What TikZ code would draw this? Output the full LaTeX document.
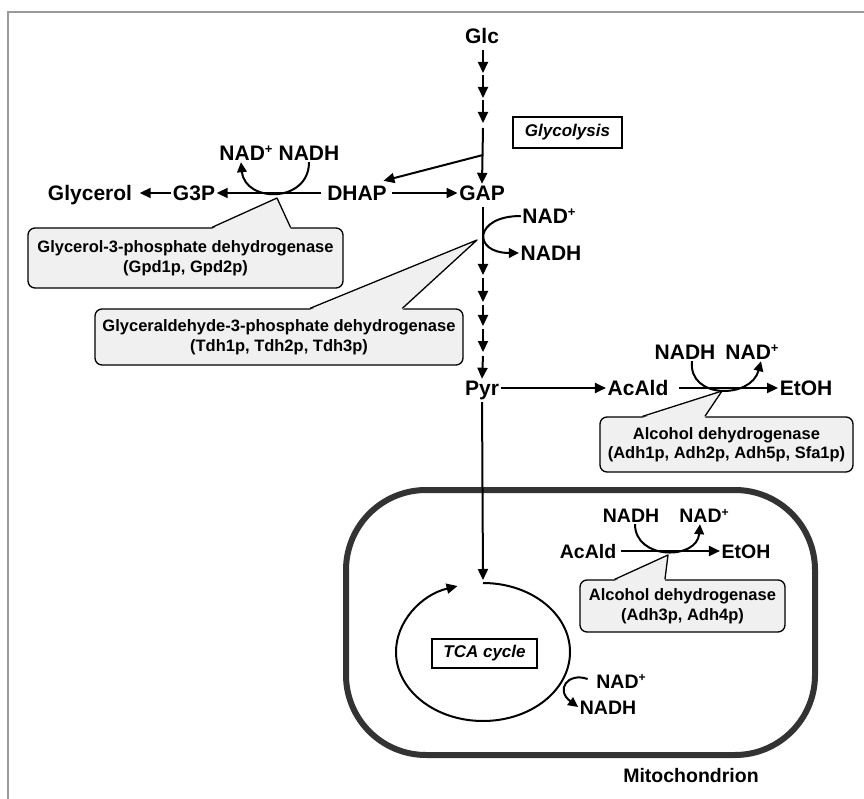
\documentclass[tikz,border=0pt]{standalone}
\usepackage{fontspec}
\setmainfont{Liberation Sans}
\usetikzlibrary{arrows.meta, calc}

\newcommand{\metfont}{\fontsize{21}{24}\selectfont\bfseries}
\newcommand{\mitfont}{\fontsize{19.5}{22}\selectfont\bfseries}
\newcommand{\enzfont}{\fontsize{16.5}{19.5}\selectfont\bfseries}
\newcommand{\tagfont}{\fontsize{17}{20}\selectfont\bfseries\itshape}
\newcommand{\plus}{\raisebox{0.33em}{\scalebox{0.62}{+}}}

\tikzset{
    base/.style={font=\metfont, inner sep=1.5pt, text height=15pt, text depth=0pt},
    mitlabel/.style={base, font=\mitfont, text height=14pt},
    enzyme/.style={draw=black, line width=1.3pt, rounded corners=7pt, fill=black!6, font=\enzfont, align=center, inner sep=0pt},
    titlebox/.style={draw=black, line width=1.9pt, font=\tagfont, inner sep=0pt},
    line/.style={draw=black, line width=2pt, -{Triangle[length=11pt,width=10pt]}},
    cofactor/.style={draw=black, line width=2pt, -{Triangle[length=10pt,width=9.5pt]}},
    membrane/.style={draw=black!80, line width=6pt, rounded corners=80pt}
}

% pointer of an enzyme box: box, tip, start and end of its base along the top edge
\newcommand{\enzpointer}[4]{%
    \fill [black!6] ($(#1.north west)!#3!(#1.north east)+(0,1.5)$) -- (#2) -- ($(#1.north west)!#4!(#1.north east)+(0,1.5)$) -- cycle;
    \draw [line width=1.3pt, line join=round] ($(#1.north west)!#3!(#1.north east)$) -- (#2) -- ($(#1.north west)!#4!(#1.north east)$);
}

\begin{document}
\begin{tikzpicture}[x=1pt, y=-1pt]
    \useasboundingbox (0,0) rectangle (864,799);
    \draw [black!40, line width=1.5pt] (8,799) -- (8,12) -- (864,12);

    % mitochondrion
    \node [membrane, minimum width=469pt, minimum height=265pt] (mito) at (580.5,622.5) {};
    \node [mitlabel] (mitolabel) at (691,775) {Mitochondrion};

    % glycolysis
    \node [base] (glc) at (482,36) {Glc};
    \node [titlebox, minimum width=109pt, minimum height=31pt] (glycolysis) at (567.5,132.5) {Glycolysis};
    \node [base] (gap) at (482,193) {GAP};
    \node [base] (dhap) at (357,193) {DHAP};
    \node [base] (g3p) at (194,193) {G3P};
    \node [base] (glycerol) at (90,193) {Glycerol};
    \node [base] (nadA) at (246,153) {NAD\plus};
    \node [base] (nadhA) at (309,153) {NADH};
    \node [base] (nadB) at (549,216) {NAD\plus};
    \node [base] (nadhB) at (551,253) {NADH};
    \node [base] (pyr) at (482,388) {Pyr};

    % fermentation
    \node [base] (acald) at (638,388) {AcAld};
    \node [base] (etoh) at (806,388) {EtOH};
    \node [base] (nadhC) at (685,352) {NADH};
    \node [base] (nadC) at (752,352) {NAD\plus};

    % inside the mitochondrion
    \node [mitlabel] (acaldM) at (588,551) {AcAld};
    \node [mitlabel] (etohM) at (746,551) {EtOH};
    \node [mitlabel] (nadhM) at (631,515.5) {NADH};
    \node [mitlabel] (nadM) at (704,515.5) {NAD\plus};
    \node [titlebox, minimum width=105pt, minimum height=29pt] (tca) at (484.5,653.5) {TCA cycle};
    \node [mitlabel] (nadT) at (621,681) {NAD\plus};
    \node [mitlabel] (nadhT) at (608,707) {NADH};

    % enzymes
    \node [enzyme, minimum width=315pt, minimum height=60pt] (gpd) at (185.5,258) {Glycerol-3-phosphate dehydrogenase\\(Gpd1p, Gpd2p)};
    \node [enzyme, minimum width=368pt, minimum height=56pt] (tdh) at (279,337) {Glyceraldehyde-3-phosphate dehydrogenase\\(Tdh1p, Tdh2p, Tdh3p)};
    \node [enzyme, minimum width=253pt, minimum height=55pt] (adhC) at (726.5,444.5) {Alcohol dehydrogenase\\(Adh1p, Adh2p, Adh5p, Sfa1p)};
    \node [enzyme, minimum width=205pt, minimum height=52pt] (adhM) at (682.5,606) {Alcohol dehydrogenase\\(Adh3p, Adh4p)};

    \coordinate (gpdtip) at (277,198);
    \coordinate (tdhtip) at (477,240);
    \coordinate (adhCtip) at (722,391);
    \coordinate (adhMtip) at (668,555);
    \enzpointer{gpd}{gpdtip}{0.584}{0.832}
    \enzpointer{tdh}{tdhtip}{0.584}{0.834}
    \enzpointer{adhC}{adhCtip}{0.17}{0.415}
    \enzpointer{adhM}{adhMtip}{0.171}{0.415}

    % Glc to GAP
    \foreach \ya/\yb [count=\i] in {50/73, 75/98, 100/123} {
        \coordinate (up\i) at (483,\ya);
        \coordinate (upend\i) at (483,\yb);
        \path [line] (up\i) -- (upend\i);
    }
    \coordinate (upjoin) at (483,128);
    \coordinate (branch) at (483,155);
    \path [line] (upjoin) -- (gap.north);
    \path [line] (branch) -- ($(dhap.north east)+(-5,-3)$);

    % GAP to Pyr
    \foreach \ya/\yb [count=\i] in {207/275, 278/302, 305/326, 329/352} {
        \coordinate (down\i) at (483,\ya);
        \coordinate (downend\i) at (483,\yb);
        \path [line] (down\i) -- (downend\i);
    }
    \coordinate (downlast) at (483,356);
    \path [line] (downlast) -- (pyr.north);

    \path [line, shorten <=5pt] (dhap.west) -- (g3p.east);
    \path [line, shorten <=4pt] (dhap.east) -- (gap.west);
    \path [line, shorten >=6pt] (g3p.west) -- (glycerol.east);
    \path [line] (pyr.east) -- (acald.west);
    \path [line, shorten <=9pt] (acald.east) -- (etoh.west);
    \path [line, shorten <=3pt] (acaldM.east) -- (etohM.west);

    % cofactors
    \path [cofactor] (nadhA.south) .. controls +(0,41) and +(4,41) .. ($(nadA.south)+(-5,0)$);
    \path [cofactor] (nadB.west) .. controls +(-47,0) and +(-47,0) .. (nadhB.west);
    \path [cofactor] ($(nadhC.south)+(7,0)$) .. controls +(-4,38) and +(-10,38) .. ($(nadC.south)+(9,0)$);
    \path [cofactor] ($(nadhM.south)+(4,0)$) .. controls +(0,36) and +(-3,36) .. ($(nadM.south)+(-4,0)$);
    \path [cofactor] ($(nadT.west)+(-7,-2)$) .. controls +(-20,-7) and +(-23,-17) .. (nadhT.west);

    % TCA cycle
    \coordinate (tcain) at (483,580);
    \coordinate (tcatop) at (483,583);
    \path [line, shorten <=5pt] (pyr.south) -- (tcain);
    \path [line] (tcatop) arc [start angle=270, end angle=613, x radius=87, y radius=69];
\end{tikzpicture}
\end{document}
